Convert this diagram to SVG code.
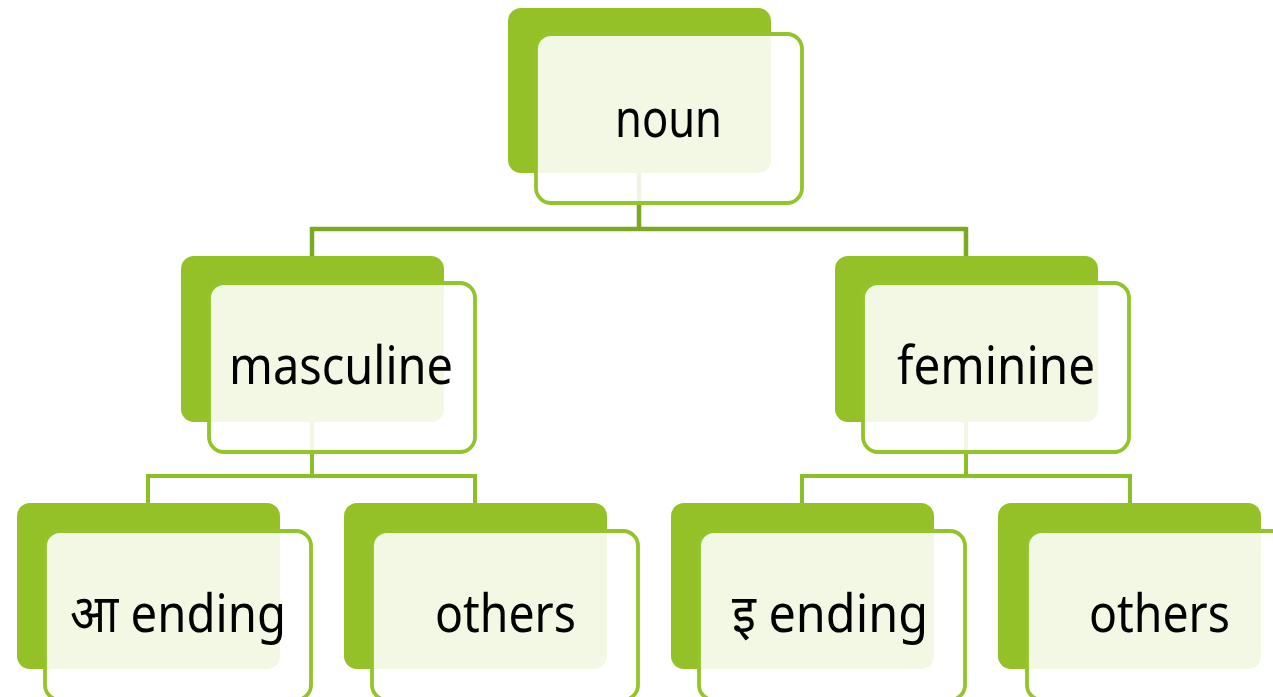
<svg xmlns="http://www.w3.org/2000/svg" width="1273" height="697" viewBox="0 0 1273 697">
<style>
.back{fill:#93c127}
.front{fill:#ffffff;fill-opacity:0.88;stroke:#93c42a;stroke-width:3.8}
.c1{stroke:#7ca823;stroke-width:4.5;fill:none}
.c2{stroke:#8cbf26;stroke-width:4;fill:none}
.t{font-family:"Noto Sans","Noto Sans Devanagari","Lohit Devanagari","DejaVu Sans",sans-serif;font-size:53px;fill:#000;text-anchor:middle}
</style>
<rect width="1273" height="697" fill="#ffffff"/>
<g id="backs">
<rect class="back" x="508" y="8" width="263" height="165" rx="13"/>
<rect class="back" x="181" y="256" width="263" height="166" rx="13"/>
<rect class="back" x="835" y="256" width="263" height="166" rx="13"/>
<rect class="back" x="17" y="503" width="263" height="166" rx="13"/>
<rect class="back" x="344" y="503" width="263" height="166" rx="13"/>
<rect class="back" x="671" y="503" width="263" height="166" rx="13"/>
<rect class="back" x="998" y="503" width="263" height="166" rx="13"/>
</g>
<g id="connectors">
<path class="c1" d="M639 173V229M311 229H967M312 227V256M966 227V256"/>
<path class="c2" d="M312 422V476M148 476H476M148 474V503M475 474V503"/>
<path class="c2" d="M966 422V476M802 476H1131M802 474V503M1130 474V503"/>
</g>
<g id="noun">
<rect class="front" x="536" y="34" width="266" height="169" rx="15"/>
<text class="t" x="668.5" y="137" textLength="107" lengthAdjust="spacingAndGlyphs">noun</text>
</g>
<g id="masculine">
<rect class="front" x="209" y="283" width="266" height="169" rx="15"/>
<text class="t" x="341" y="384" textLength="224" lengthAdjust="spacingAndGlyphs">masculine</text>
</g>
<g id="feminine">
<rect class="front" x="863" y="283" width="266" height="169" rx="15"/>
<text class="t" x="996" y="384" textLength="198" lengthAdjust="spacingAndGlyphs">feminine</text>
</g>
<g id="aa-ending">
<rect class="front" x="45" y="531" width="266" height="169" rx="15"/>
<text class="t" x="178" y="632" textLength="216" lengthAdjust="spacingAndGlyphs">आ ending</text>
</g>
<g id="others-left">
<rect class="front" x="372" y="531" width="266" height="169" rx="15"/>
<text class="t" x="505.5" y="632" textLength="141" lengthAdjust="spacingAndGlyphs">others</text>
</g>
<g id="i-ending">
<rect class="front" x="699" y="531" width="266" height="169" rx="15"/>
<text class="t" x="830" y="632" textLength="196" lengthAdjust="spacingAndGlyphs">इ ending</text>
</g>
<g id="others-right">
<rect class="front" x="1027" y="531" width="266" height="169" rx="15"/>
<text class="t" x="1159.5" y="632" textLength="141" lengthAdjust="spacingAndGlyphs">others</text>
</g>
</svg>
